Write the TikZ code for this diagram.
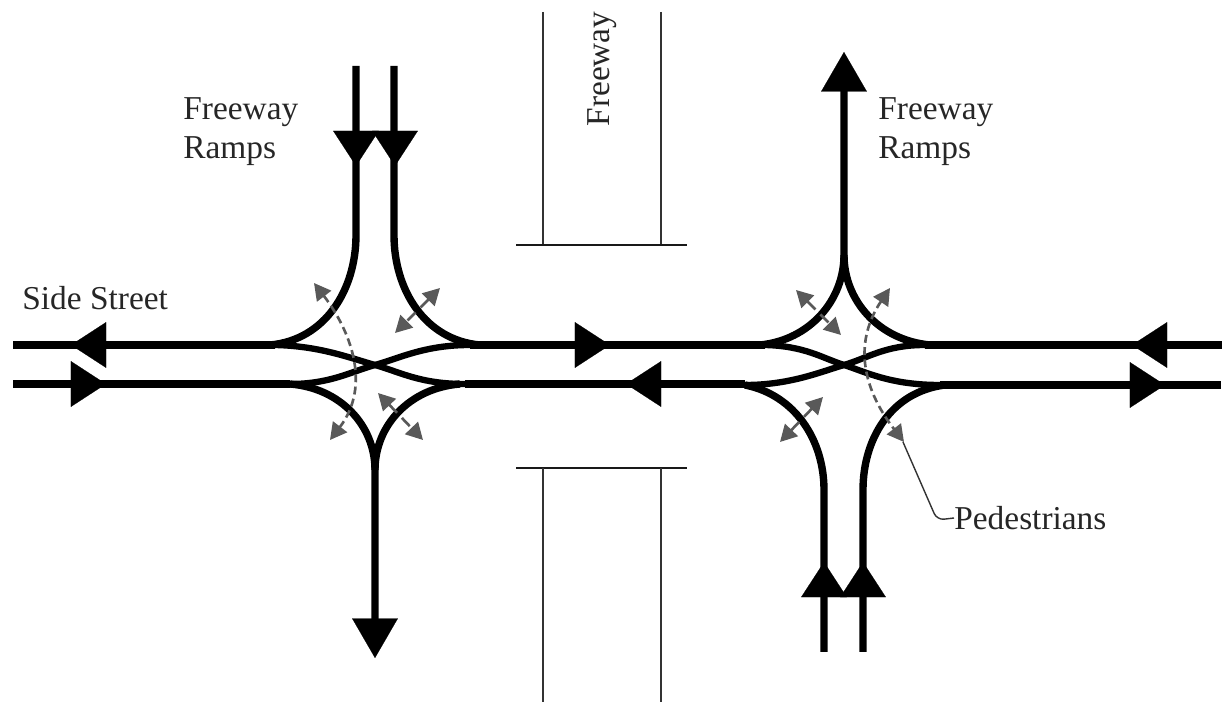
\documentclass[tikz,border=0pt]{standalone}
\usepackage{fontspec}
\setmainfont{Liberation Serif}
\usetikzlibrary{arrows.meta}
\tikzset{
    road/.style={line width=4.2pt, black},
    ramp/.style={line width=3.6pt, black},
    head/.style={line width=0.1pt, -{Triangle[length=20pt, width=26pt]}},
    longhead/.style={line width=0.1pt, -{Triangle[length=22.5pt, width=26pt]}},
    walk/.style={line width=1.5pt, black!65, dash pattern=on 4.5pt off 2.5pt, {Triangle[length=9.5pt, width=10pt]}-{Triangle[length=9.5pt, width=10pt]}},
    shortwalk/.style={walk, dash pattern=on 6.5pt off 4pt},
    edgeline/.style={line width=0.8pt, black!80},
    curbline/.style={line width=1.4pt, black!90},
    lbl/.style={font=\fontsize{19}{22.2}\selectfont, black!85, inner sep=0pt}
}
\begin{document}
\begin{tikzpicture}[x=0.02cm, y=-0.02cm]
        \useasboundingbox (0,0) rectangle (1225,702);

        % Freeway
        \draw[edgeline] (543,12) -- (543,245);
        \draw[edgeline] (661,12) -- (661,245);
        \draw[curbline] (516,245) -- (687,245);
        \draw[curbline] (516,468) -- (687,468);
        \draw[edgeline] (543,468) -- (543,702);
        \draw[edgeline] (661,468) -- (661,702);
        \node[lbl, rotate=90] (freeway) at (602,69) {Freeway};

        % Side street
        \draw[road] (13,345) -- (275,345);
        \draw[road] (13,384) -- (290,384);
        \draw[road] (470,345) -- (765,345);
        \draw[road] (465,384) -- (745,384);
        \draw[road] (925,345) -- (1222,345);
        \draw[road] (940,385) -- (1221,385);

        % Left crossover
        \draw[ramp] (275,345) .. controls (320,346) and (350,358) .. (375,365) .. controls (400,372) and (420,384) .. (465,384);
        \draw[ramp] (290,384) .. controls (330,384) and (350,372) .. (375,365) .. controls (400,358) and (425,345) .. (470,345);

        % Right crossover
        \draw[ramp] (765,345) .. controls (805,346) and (822,358) .. (844,365) .. controls (866,372) and (890,385) .. (940,385);
        \draw[ramp] (745,385) .. controls (790,385) and (820,372) .. (844,365) .. controls (868,358) and (885,345) .. (925,345);

        % Left ramps
        \draw[road] (356,66) -- (356,235) .. controls (356,290) and (325,340) .. (270,345);
        \draw[road] (394,66) -- (394,235) .. controls (394,290) and (425,340) .. (480,345);
        \draw[road] (375,625) -- (375,470) .. controls (375,425) and (340,388) .. (290,384);
        \draw[road] (375,470) .. controls (375,425) and (410,388) .. (460,384);

        % Right ramps
        \draw[road] (844,75) -- (844,255) .. controls (844,300) and (810,340) .. (760,345);
        \draw[road] (844,255) .. controls (844,300) and (878,340) .. (930,345);
        \draw[road] (824,652) -- (824,490) .. controls (824,440) and (795,395) .. (745,385);
        \draw[road] (863,652) -- (863,490) .. controls (863,440) and (890,392) .. (945,385);

        % Direction arrows
        \draw[head] (107,345) -- (71,345);
        \draw[head] (70,384) -- (106,384);
        \draw[head] (574,345) -- (610,345);
        \draw[head] (662,384) -- (626,384);
        \draw[head] (1168,345) -- (1132,345);
        \draw[head] (1129,385) -- (1165,385);
        \draw[head] (356,129) -- (356,166);
        \draw[head] (395,129) -- (395,166);
        \draw[longhead] (375,620) -- (375,658);
        \draw[longhead] (844,92) -- (844,52);
        \draw[head] (824,598) -- (824,562);
        \draw[head] (863,598) -- (863,562);

        % Pedestrians
        \draw[walk] (314,283) .. controls (350,330) and (372,385) .. (330,440);
        \draw[shortwalk] (440,288) -- (395,333);
        \draw[shortwalk] (378,393) -- (423,440);
        \draw[shortwalk] (796,290) -- (841,335);
        \draw[shortwalk] (823,397) -- (780,442);
        \draw[walk] (890,288) .. controls (855,340) and (860,385) .. (904,442);

        % Labels
        \node[lbl, anchor=west] (sidestreet) at (22,298) {Side Street};
        \node[lbl, anchor=west, align=left] (rampsleft) at (183,132) {Freeway\\Ramps};
        \node[lbl, anchor=west, align=left] (rampsright) at (878,132) {Freeway\\Ramps};
        \node[lbl, anchor=west] (pedestrians) at (954,518) {Pedestrians};
        \draw[edgeline, rounded corners=4pt] (pedestrians.west) -- (937,520) -- (903,442);
\end{tikzpicture}
\end{document}
